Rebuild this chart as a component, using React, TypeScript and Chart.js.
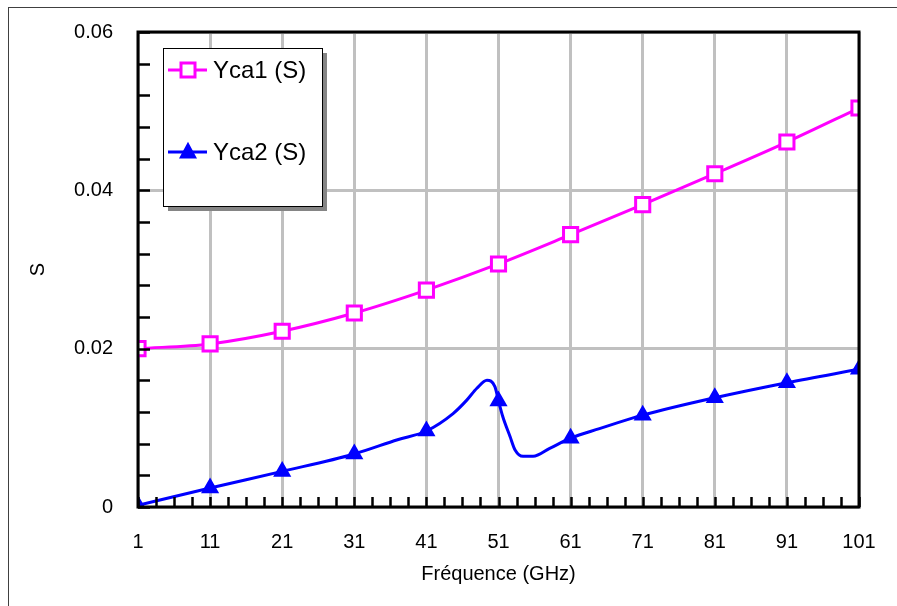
import React, { useEffect, useRef } from "react";
import { Chart, registerables } from "chart.js";

Chart.register(...registerables);

// ---- data ----
const freqTicks = [1, 11, 21, 31, 41, 51, 61, 71, 81, 91, 101];
const yTickValues = [0, 0.02, 0.04, 0.06];
const markerFreqs = [1, 11, 21, 31, 41, 51, 61, 71, 81, 91, 101];

const yca1Freq = [1, 11, 21, 31, 41, 51, 61, 71, 81, 91, 101];
const yca1Vals = [0.02, 0.0206, 0.0222, 0.0245, 0.0274, 0.0307, 0.0344, 0.0382, 0.0421, 0.0461, 0.0504];

const yca2Freq = [1, 11, 21, 31, 37, 41, 44.7, 46.6, 48, 49.4, 50.5, 51, 51.6, 52.6, 53.3, 54.4, 55.8, 58.1, 61, 65, 71, 81, 91, 101];
const yca2Vals = [0.0002, 0.0024, 0.0045, 0.0067, 0.0085, 0.0096, 0.0118, 0.0135, 0.015, 0.016, 0.0152, 0.0134, 0.0114, 0.0089, 0.0072, 0.0064, 0.0064, 0.0074, 0.0087, 0.0099, 0.0116, 0.0138, 0.0157, 0.0174];

const seriesLabels = ["Yca1 (S)", "Yca2 (S)"];
const xTitle = "Fréquence (GHz)";
const yTitle = "S";

const FONT = "Arial, 'Liberation Sans', sans-serif";

const frameBorder = {
  id: "frameBorder",
  beforeDraw(chart: any) {
    const ctx = chart.ctx;
    ctx.save();
    ctx.strokeStyle = "#404040";
    ctx.lineWidth = 1;
    ctx.strokeRect(8.5, 7.5, 2000, 2000);
    ctx.restore();
  },
};

const axisFrame = {
  id: "axisFrame",
  afterDatasetsDraw(chart: any) {
    const ctx = chart.ctx;
    const { left, right, top, bottom } = chart.chartArea;
    const xs = chart.scales.x;
    const ys = chart.scales.y;
    ctx.save();
    ctx.strokeStyle = "#000";
    ctx.lineWidth = 2.5;
    ctx.beginPath();
    for (let v = 1; v <= 101.001; v += 2.5) {
      const px = Math.round(xs.getPixelForValue(v)) + 0.5;
      ctx.moveTo(px, bottom);
      ctx.lineTo(px, bottom - 10);
    }
    for (let v = 0; v <= 0.0601; v += 0.004) {
      const py = Math.round(ys.getPixelForValue(v)) + 0.5;
      ctx.moveTo(left, py);
      ctx.lineTo(left + 12, py);
    }
    ctx.stroke();
    ctx.lineWidth = 3;
    ctx.strokeRect(left, top, right - left, bottom - top);
    ctx.restore();
  },
};

function drawMarker(ctx: any, style: string, x: number, y: number, color: string) {
  ctx.save();
  ctx.lineWidth = 3;
  ctx.strokeStyle = color;
  if (style === "rect") {
    ctx.fillStyle = "#fff";
    ctx.fillRect(x - 7, y - 7, 14, 14);
    ctx.strokeRect(x - 7, y - 7, 14, 14);
  } else {
    ctx.fillStyle = color;
    ctx.beginPath();
    ctx.moveTo(x, y - 7);
    ctx.lineTo(x + 6.5, y + 5);
    ctx.lineTo(x - 6.5, y + 5);
    ctx.closePath();
    ctx.fill();
    ctx.stroke();
  }
  ctx.restore();
}

const boxLegend = {
  id: "boxLegend",
  afterDraw(chart: any) {
    const ctx = chart.ctx;
    const { left, top } = chart.chartArea;
    const bx = left + 25;
    const by = top + 16;
    const bw = 159;
    const bh = 158;
    ctx.save();
    ctx.fillStyle = "#858585";
    ctx.fillRect(bx + 5, by + 5, bw, bh);
    ctx.fillStyle = "#fff";
    ctx.fillRect(bx, by, bw, bh);
    ctx.strokeStyle = "#000";
    ctx.lineWidth = 1;
    ctx.strokeRect(bx + 0.5, by + 0.5, bw, bh);
    const rowY = [by + 22, by + 104];
    chart.data.datasets.forEach((ds: any, i: number) => {
      const y = rowY[i];
      ctx.strokeStyle = ds.borderColor;
      ctx.lineWidth = 3;
      ctx.beginPath();
      ctx.moveTo(bx + 5, y);
      ctx.lineTo(bx + 44, y);
      ctx.stroke();
      drawMarker(ctx, ds.pointStyle, bx + 25, y, ds.borderColor);
      ctx.fillStyle = "#000";
      ctx.font = `24px ${FONT}`;
      ctx.textAlign = "left";
      ctx.textBaseline = "middle";
      ctx.fillText(ds.label, bx + 50, y + 1);
    });
    ctx.restore();
  },
};

export default function App() {
  const canvasRef = useRef<HTMLCanvasElement | null>(null);

  useEffect(() => {
    if (!canvasRef.current) return;
    const isMarker = (c: any) => c && c.raw && markerFreqs.includes(c.raw.x);
    const chart = new Chart(canvasRef.current, {
      type: "line",
      data: {
        datasets: [
          {
            label: seriesLabels[0],
            data: yca1Freq.map((x, i) => ({ x, y: yca1Vals[i] })),
            borderColor: "#ff00ff",
            backgroundColor: "#ffffff",
            borderWidth: 3,
            pointStyle: "rect",
            pointRadius: (c: any) => (isMarker(c) ? 10 : 0),
            pointBorderWidth: 3,
            pointBorderColor: "#ff00ff",
            pointBackgroundColor: "#ffffff",
            cubicInterpolationMode: "monotone",
            clip: 0,
          },
          {
            label: seriesLabels[1],
            data: yca2Freq.map((x, i) => ({ x, y: yca2Vals[i] })),
            borderColor: "#0000ff",
            backgroundColor: "#0000ff",
            borderWidth: 3,
            pointStyle: "triangle",
            pointRadius: (c: any) => (isMarker(c) ? 7.5 : 0),
            pointBorderWidth: 3,
            pointBorderColor: "#0000ff",
            pointBackgroundColor: "#0000ff",
            cubicInterpolationMode: "monotone",
            clip: 0,
          },
        ],
      } as any,
      options: {
        animation: false,
        responsive: false,
        layout: { padding: { top: 32, right: 38, left: 0, bottom: 0 }, autoPadding: false },
        plugins: {
          legend: { display: false },
          tooltip: { enabled: false },
        },
        scales: {
          x: {
            type: "linear",
            min: 1,
            max: 101,
            afterBuildTicks: (s: any) => {
              s.ticks = freqTicks.map((v) => ({ value: v }));
            },
            afterFit: (s: any) => {
              s.height = 99;
            },
            grid: { color: "#c0c0c0", lineWidth: 3, drawTicks: true, tickLength: 23, tickColor: "rgba(0,0,0,0)" },
            border: { display: false },
            ticks: {
              color: "#000",
              font: { family: FONT, size: 20 },
              padding: 0,
              maxRotation: 0,
              autoSkip: false,
              callback: (v: any) => String(v),
            },
            title: {
              display: true,
              text: xTitle,
              color: "#000",
              font: { family: FONT, size: 20 },
              padding: { top: 0, bottom: 20 },
            },
          },
          y: {
            type: "linear",
            min: 0,
            max: 0.06,
            afterBuildTicks: (s: any) => {
              s.ticks = yTickValues.map((v) => ({ value: v }));
            },
            afterFit: (s: any) => {
              s.width = 138;
            },
            grid: { color: "#c0c0c0", lineWidth: 3, drawTicks: true, tickLength: 25, tickColor: "rgba(0,0,0,0)" },
            border: { display: false },
            ticks: {
              color: "#000",
              font: { family: FONT, size: 20 },
              padding: 0,
              autoSkip: false,
              callback: (v: any) => (v === 0 ? "0" : Number(v).toFixed(2)),
            },
            title: {
              display: true,
              text: yTitle,
              color: "#000",
              font: { family: FONT, size: 20 },
              padding: { top: 26, bottom: 0 },
            },
          },
        },
      } as any,
      plugins: [frameBorder, axisFrame, boxLegend],
    });
    return () => chart.destroy();
  }, []);

  return (
    <div style={{ position: "absolute", left: 0, top: 0, width: 897, height: 606, overflow: "hidden", background: "#fff" }}>
      <canvas ref={canvasRef} width={897} height={606} style={{ width: 897, height: 606, display: "block" }} />
    </div>
  );
}
